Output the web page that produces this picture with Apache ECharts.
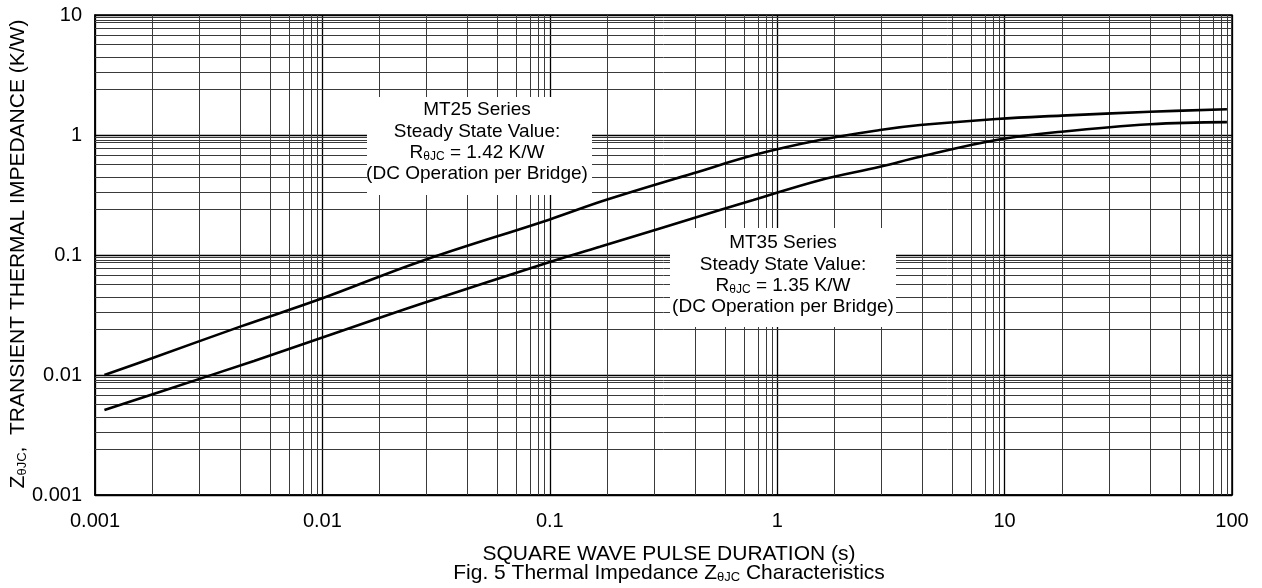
<!DOCTYPE html>
<html>
<head>
<meta charset="utf-8">
<script src="https://cdn.jsdelivr.net/npm/echarts@6/dist/echarts.min.js"></script>
<style>
html,body{margin:0;padding:0;background:#fff;}
#chart{width:1262px;height:588px;}
</style>
</head>
<body>
<div id="chart"></div>
<script>
// ---- data ----
const xTickLabels = ['0.001', '0.01', '0.1', '1', '10', '100'];
const yTickLabels = ['0.001', '0.01', '0.1', '1', '10'];

const mt25Time = [0.0011, 0.00178, 0.00435, 0.01, 0.0268, 0.1, 0.176, 0.428, 0.813, 1.54, 2.83, 4.25, 9.2, 17.8, 43.6, 95];
const mt25Z    = [0.0100, 0.0138, 0.0253, 0.0436, 0.088, 0.198, 0.287, 0.48, 0.69, 0.908, 1.10, 1.21, 1.36, 1.45, 1.56, 1.64];

const mt35Time = [0.0011, 0.002, 0.005, 0.01, 0.0268, 0.1, 0.166, 0.56, 0.785, 1.54, 2.83, 4.25, 9.2, 17.8, 43.6, 95];
const mt35Z    = [0.0051, 0.0074, 0.0131, 0.0205, 0.0388, 0.0874, 0.117, 0.237, 0.287, 0.42, 0.544, 0.659, 0.908, 1.066, 1.23, 1.28];

// minor grid line positions within each decade (fraction of a decade, as printed on the chart paper)
const xMinorFrac = [0.251, 0.457, 0.638, 0.770, 0.853, 0.915, 0.950, 0.976];
const yMinorFrac = [0.386, 0.525, 0.653, 0.756, 0.831, 0.894, 0.939, 0.958, 0.983];

// ---- build ----
const FONT = 'Arial, "Liberation Sans", sans-serif';
const zip = (a, b) => a.map((v, i) => [v, b[i]]);

// grid line items: [x, y, orientation]  (0 = vertical at x, 1 = horizontal at y)
const gridItems = [];
for (let d = -3; d <= 1; d++) xMinorFrac.forEach(f => gridItems.push([Math.pow(10, d + f), 1, 0]));
for (let d = -3; d <= 0; d++) yMinorFrac.forEach(f => gridItems.push([1, Math.pow(10, d + f), 1]));

const tickFmt = labels => v => {
  const i = Math.round(Math.log10(v)) + 3;
  return labels[i] !== undefined ? labels[i] : '';
};

const chart = echarts.init(document.getElementById('chart'), null, { renderer: 'canvas' });

function annText(x, y, text, rich) {
  return {
    type: 'text', x: x, y: y, z: 101, silent: true,
    style: {
      text: text, fontSize: 19, fontFamily: FONT, fill: '#000',
      align: 'center', verticalAlign: 'middle',
      rich: rich || undefined
    }
  };
}
const annRich = {
  m: { fontSize: 19, fontFamily: FONT, color: '#000' },
  s: { fontSize: 12, fontFamily: FONT, color: '#000', verticalAlign: 'bottom' }
};

const option = {
  animation: false,
  backgroundColor: '#fff',
  grid: { left: 95, right: 30, top: 15, bottom: 93, show: true, borderColor: '#000', borderWidth: 1.5, backgroundColor: 'transparent' },
  xAxis: {
    type: 'log', logBase: 10, min: 0.001, max: 100,
    axisLine: { show: true, onZero: false, lineStyle: { color: '#000', width: 1.5 } },
    axisTick: { show: false },
    axisLabel: { fontSize: 20, fontFamily: FONT, color: '#000', margin: 16, formatter: tickFmt(xTickLabels) },
    splitLine: { show: true, lineStyle: { color: '#000', width: 1.3 } },
    minorTick: { show: false }, minorSplitLine: { show: false }
  },
  yAxis: {
    type: 'log', logBase: 10, min: 0.001, max: 10,
    axisLine: { show: true, onZero: false, lineStyle: { color: '#000', width: 1.5 } },
    axisTick: { show: false },
    axisLabel: { fontSize: 20, fontFamily: FONT, color: '#000', margin: 13, formatter: tickFmt(yTickLabels) },
    splitLine: { show: true, lineStyle: { color: '#000', width: 1.3 } },
    minorTick: { show: false }, minorSplitLine: { show: false }
  },
  series: [
    {
      type: 'custom', z: 1, silent: true, clip: false,
      data: gridItems,
      encode: { x: 0, y: 1 },
      renderItem: function (params, api) {
        const cs = params.coordSys;
        const p = api.coord([api.value(0), api.value(1)]);
        let shape;
        if (api.value(2) === 0) {
          const x = Math.round(p[0]) + 0.5;
          shape = { x1: x, y1: cs.y, x2: x, y2: cs.y + cs.height };
        } else {
          const y = Math.round(p[1]) + 0.5;
          shape = { x1: cs.x, y1: y, x2: cs.x + cs.width, y2: y };
        }
        return { type: 'line', shape: shape, style: { stroke: '#3a3a3a', lineWidth: 1 } };
      }
    },
    {
      name: 'MT25', type: 'line', z: 5, data: zip(mt25Time, mt25Z),
      showSymbol: false, smooth: 0.4,
      lineStyle: { color: '#000', width: 2.6 }
    },
    {
      name: 'MT35', type: 'line', z: 5, data: zip(mt35Time, mt35Z),
      showSymbol: false, smooth: 0.4,
      lineStyle: { color: '#000', width: 2.6 }
    }
  ],
  graphic: [
    // annotation boxes
    { type: 'rect', z: 100, silent: true, shape: { x: 367, y: 97, width: 225, height: 98 }, style: { fill: '#fff' } },
    { type: 'rect', z: 100, silent: true, shape: { x: 670, y: 228, width: 226, height: 99 }, style: { fill: '#fff' } },
    annText(477, 110, 'MT25 Series'),
    annText(477, 132, 'Steady State Value:'),
    annText(477, 153, '{m|R}{s|θJC}{m| = 1.42 K/W}', annRich),
    annText(477, 174, '(DC Operation per Bridge)'),
    annText(783, 243, 'MT35 Series'),
    annText(783, 265, 'Steady State Value:'),
    annText(783, 286, '{m|R}{s|θJC}{m| = 1.35 K/W}', annRich),
    annText(783, 307, '(DC Operation per Bridge)'),
    // y-axis title
    {
      type: 'text', x: 18, y: 254, rotation: Math.PI / 2, z: 101, silent: true,
      style: {
        text: '{m|Z}{s|θJC}{m|,  TRANSIENT THERMAL IMPEDANCE (K/W)}',
        align: 'center', verticalAlign: 'middle',
        rich: {
          m: { fontSize: 21, fontFamily: FONT, color: '#000' },
          s: { fontSize: 13, fontFamily: FONT, color: '#000', verticalAlign: 'bottom' }
        }
      }
    },
    // x-axis title and caption
    {
      type: 'text', x: 669, y: 554, z: 101, silent: true,
      style: { text: 'SQUARE WAVE PULSE DURATION (s)', fontSize: 21, fontFamily: FONT, fill: '#000', align: 'center', verticalAlign: 'middle' }
    },
    {
      type: 'text', x: 669, y: 573, z: 101, silent: true,
      style: {
        text: '{m|Fig. 5 Thermal Impedance Z}{s|θJC}{m| Characteristics}',
        align: 'center', verticalAlign: 'middle',
        rich: {
          m: { fontSize: 21, fontFamily: FONT, color: '#000' },
          s: { fontSize: 13, fontFamily: FONT, color: '#000', verticalAlign: 'bottom' }
        }
      }
    }
  ]
};
chart.setOption(option);
</script>
</body>
</html>
